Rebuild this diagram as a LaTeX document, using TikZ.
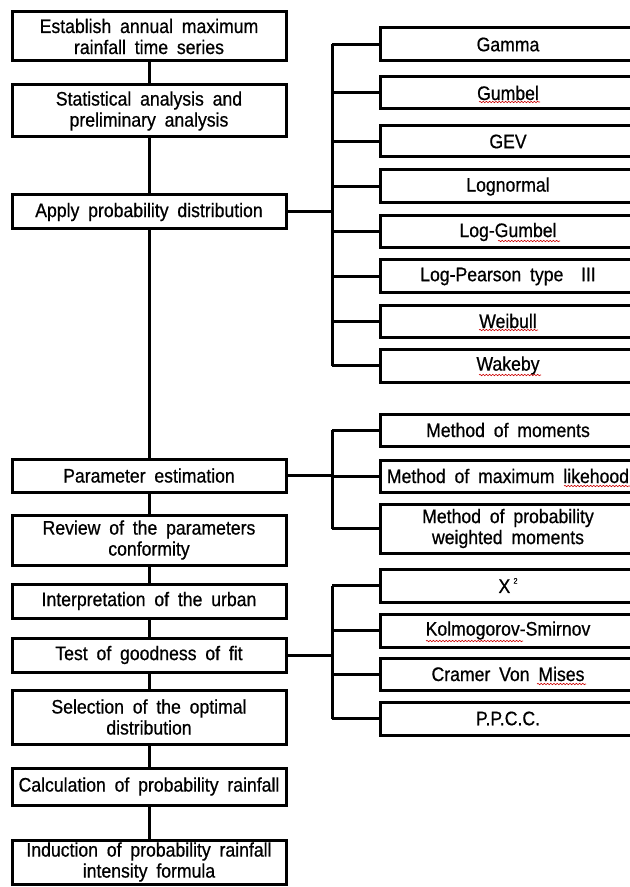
\documentclass[tikz,border=0pt]{standalone}
\usepackage{fontspec}
\setmainfont{Liberation Sans}[FakeStretch=0.9,FakeBold=0.7,WordSpace={1.8,0.5,0.5}]
\usetikzlibrary{decorations.pathmorphing}
\begin{document}
\begin{tikzpicture}[x=0.5pt,y=-0.5pt,
  box/.style={draw,line width=1.5pt,rectangle,inner sep=0pt,align=center,
    font=\fontsize{9.8}{10.5}\selectfont},
  lbox/.style={box,minimum width=137pt},
  rbox/.style={box,minimum width=128pt},
  link/.style={line width=1.5pt},
  spell/.style={draw=red!80!black,line width=0.3pt,decorate,
    decoration={snake,amplitude=0.35pt,segment length=1.6pt}}]
\useasboundingbox (0,0) rectangle (630,887);
% left column
\node[lbox,minimum height=24.5pt] (L1) at (149,36.5) {Establish annual maximum\\rainfall time series};
\node[lbox,minimum height=26pt] (L2) at (149,111) {Statistical analysis and\\preliminary analysis};
\node[lbox,minimum height=17pt] (L3) at (149,212) {Apply probability distribution};
\node[lbox,minimum height=16.5pt] (L4) at (149,475.5) {Parameter estimation};
\node[lbox,minimum height=25pt] (L5) at (149,540) {Review of the parameters\\conformity};
\node[lbox,minimum height=17pt] (L6) at (149,601) {Interpretation of the urban};
\node[lbox,minimum height=17pt] (L7) at (149,655) {Test of goodness of fit};
\node[lbox,minimum height=27pt] (L8) at (149,717) {Selection of the optimal\\distribution};
\node[lbox,minimum height=18.5pt] (L9) at (149,786.5) {Calculation of probability rainfall};
\node[lbox,minimum height=22pt] (L10) at (149,862) {Induction of probability rainfall\\intensity formula};
\foreach \a/\b in {L1/L2,L2/L3,L3/L4,L4/L5,L5/L6,L6/L7,L7/L8,L8/L9,L9/L10}
  \draw[link] (\a.south) -- (\b.north);
% right column: distributions
\node[rbox,minimum height=16.5pt] (R1) at (508,44.5) {Gamma};
\node[rbox,minimum height=16pt] (R2) at (508,93) {Gumbel};
\node[rbox,minimum height=15.5pt] (R3) at (508,141.5) {GEV};
\node[rbox,minimum height=16.5pt] (R4) at (508,186.5) {Lognormal};
\node[rbox,minimum height=16pt] (R5) at (508,232) {Log-Gumbel};
\node[rbox,minimum height=16.5pt] (R6) at (508,276.5) {Log-Pearson type~~III};
\node[rbox,minimum height=16pt] (R7) at (508,321) {Weibull};
\node[rbox,minimum height=16.5pt] (R8) at (508,365.5) {Wakeby};
% parameter methods
\node[rbox,minimum height=16pt] (M1) at (508,430) {Method of moments};
\node[rbox,minimum height=16pt] (M2) at (508,476) {Method of maximum likehood};
\node[rbox,minimum height=24.5pt] (M3) at (508,528.5) {Method of probability\\weighted moments};
% goodness of fit tests
\node[rbox,minimum height=16.5pt] (T1) at (508,585.5) {X\,\raisebox{0.9ex}{\fontsize{4}{4}\selectfont 2}};
\node[rbox,minimum height=16.5pt] (T2) at (508,630.5) {Kolmogorov-Smirnov};
\node[rbox,minimum height=16pt] (T3) at (508,674) {Cramer Von Mises};
\node[rbox,minimum height=16.5pt] (T4) at (508,718.5) {P.P.C.C.};
% brackets
\coordinate (bx) at (332,0);
\draw[link] (L3.east) -- (L3.east -| bx);
\draw[link] (bx |- R1.west) -- (bx |- R8.west);
\foreach \n in {R1,R2,R3,R4,R5,R6,R7,R8} \draw[link] (bx |- \n.west) -- (\n.west);
\draw[link] (L4.east) -- (L4.east -| bx);
\draw[link] (bx |- M1.west) -- (bx |- M3.west);
\foreach \n in {M1,M2,M3} \draw[link] (bx |- \n.west) -- (\n.west);
\draw[link] (L7.east) -- (L7.east -| bx);
\draw[link] (bx |- T1.west) -- (bx |- T4.west);
\foreach \n in {T1,T2,T3,T4} \draw[link] (bx |- \n.west) -- (\n.west);
% spell-check underlines
\path[spell] (479,102) -- (540,102);
\path[spell] (498,241) -- (560,241);
\path[spell] (479,330) -- (538,330);
\path[spell] (479,375) -- (541,375);
\path[spell] (564,486) -- (630,486);
\path[spell] (426,641) -- (523,641);
\path[spell] (537,684) -- (586,684);
\end{tikzpicture}
\end{document}
